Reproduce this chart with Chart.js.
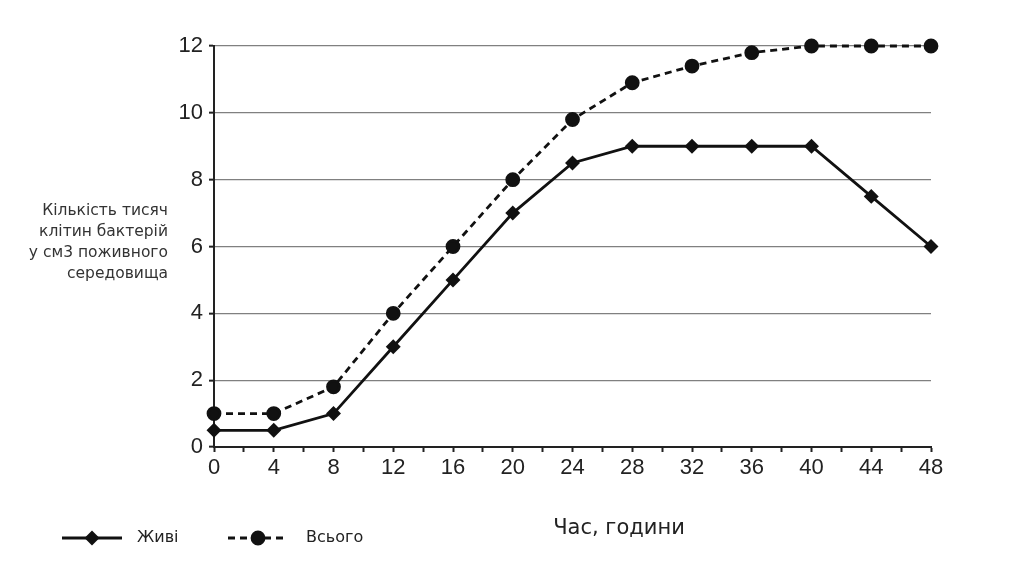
<!DOCTYPE html>
<html>
<head>
<meta charset="utf-8">
<script src="https://cdn.jsdelivr.net/npm/chart.js@4"></script>
<style>
  html, body { margin: 0; padding: 0; background: #fff; }
</style>
</head>
<body>
<canvas id="myChart" width="1024" height="576"></canvas>
<script>
const hours    = [0, 4, 8, 12, 16, 20, 24, 28, 32, 36, 40, 44, 48];
const alive    = [0.5, 0.5, 1, 3, 5, 7, 8.5, 9, 9, 9, 9, 7.5, 6];
const total    = [1, 1, 1.8, 4, 6, 8, 9.8, 10.9, 11.4, 11.8, 12, 12, 12];
const yTitle   = ['Кількість тисяч', 'клітин бактерій', 'у см3 поживного', 'середовища'];
const xTitle   = 'Час, години';
const names    = ['Живі', 'Всього'];

const toPoints = (vals) => hours.map((h, i) => ({ x: h, y: vals[i] }));
const textFont = '"DejaVu Sans", sans-serif';
const tickFont = { family: 'Liberation Sans, Arial, sans-serif', size: 22 };

// y title, x title and legend are drawn by hand
const extras = {
    id: 'extras',
    afterDraw(chart) {
        const ctx  = chart.ctx;
        ctx.save();
        ctx.fillStyle = '#333';
        ctx.font = '15.5px ' + textFont;
        ctx.textAlign = 'right';
        ctx.textBaseline = 'middle';
        yTitle.forEach((line, i) => ctx.fillText(line, 168, 211 + i * 21));

        ctx.fillStyle = '#222';
        ctx.font = '21px ' + textFont;
        ctx.textAlign = 'center';
        ctx.fillText(xTitle, 619, 529);

        // legend
        const y = 538;
        const items = [{ x: 62, tx: 137 }, { x: 228, tx: 306 }];
        chart.data.datasets.forEach((ds, i) => {
            const it = items[i];
            ctx.strokeStyle = ds.borderColor;
            ctx.lineWidth = ds.borderWidth;
            ctx.setLineDash(ds.borderDash || []);
            ctx.beginPath();
            ctx.moveTo(it.x, y);
            ctx.lineTo(it.x + 60, y);
            ctx.stroke();
            ctx.setLineDash([]);
            ctx.fillStyle = ds.backgroundColor;
            Chart.helpers.drawPoint(ctx, {
                pointStyle: ds.pointStyle,
                radius: ds.pointRadius,
                borderWidth: 1,
                rotation: 0
            }, it.x + 30, y);
            ctx.fillStyle = '#222';
            ctx.font = '16px ' + textFont;
            ctx.textAlign = 'left';
            ctx.fillText(names[i], it.tx, y);
        });
        ctx.restore();
    }
};

new Chart(document.getElementById('myChart'), {
    type: 'line',
    data: {
        datasets: [{
            label: names[0],
            data: toPoints(alive),
            borderColor: '#111',
            backgroundColor: '#111',
            borderWidth: 2.8,
            pointStyle: 'rectRot',
            pointRadius: 5.5,
            clip: false
        }, {
            label: names[1],
            data: toPoints(total),
            borderColor: '#111',
            backgroundColor: '#111',
            borderWidth: 2.8,
            borderDash: [7, 5],
            pointStyle: 'circle',
            pointRadius: 6,
            clip: false
        }]
    },
    options: {
        responsive: false,
        animation: false,
        layout: { padding: { left: 164, top: 46, right: 93, bottom: 89 } },
        plugins: { legend: { display: false }, tooltip: { enabled: false } },
        scales: {
            x: {
                type: 'linear',
                min: 0,
                max: 48,
                afterFit: (s) => { s.height = 40; },
                border: { color: '#222', width: 2 },
                grid: { drawOnChartArea: false, tickLength: 5, tickColor: '#222', tickWidth: 2 },
                ticks: {
                    stepSize: 2,
                    padding: 3,
                    maxRotation: 0,
                    minRotation: 0,
                    autoSkip: false,
                    color: '#222',
                    font: tickFont,
                    callback: (v) => (v % 4 === 0 ? v : '')
                }
            },
            y: {
                min: 0,
                max: 12,
                afterFit: (s) => { s.width = 50; },
                border: { color: '#222', width: 2 },
                grid: { color: '#808080', lineWidth: 1.3, tickLength: 5, tickColor: '#222', tickWidth: 2 },
                ticks: {
                    stepSize: 2,
                    padding: 6,
                    color: '#222',
                    font: tickFont
                }
            }
        }
    },
    plugins: [extras]
});
</script>
</body>
</html>
